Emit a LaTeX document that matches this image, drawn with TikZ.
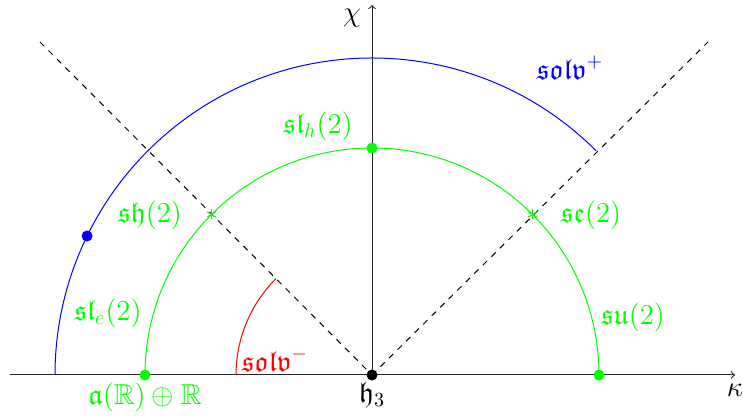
\documentclass[tikz,border=0pt]{standalone}
\usepackage{amssymb}
\begin{document}
\begin{tikzpicture}[x=0.5pt,y=0.5pt,line width=0.5pt,
  lab/.style={inner sep=0pt,anchor=center,font=\Large},
  dot/.style={circle,fill,inner sep=0pt,minimum size=5.5pt},
  ast/.style={green,line width=0.5pt}]
\useasboundingbox (0,0) rectangle (743,416);
\coordinate (O) at (372,41);
\coordinate (xl) at (10,41);
\coordinate (xr) at (735,41);
\coordinate (yt) at (372,411);
\coordinate (dl) at (40,374);
\coordinate (dr) at (708,374);
% axes
\draw[->,black!85] (xl) -- (xr);
\draw[->,black!85] (O) -- (yt);
% dashed
\draw[dashed] (dl) -- (O);
\draw[dashed] (O) -- (dr);
% arcs
\draw[blue] ([shift={(45:158.5pt)}]O) arc[start angle=45,end angle=180,radius=158.5pt];
\draw[green] ([shift={(0:113.5pt)}]O) arc[start angle=0,end angle=180,radius=113.5pt];
\draw[red] ([shift={(135:68pt)}]O) arc[start angle=135,end angle=180,radius=68pt];
% dots
\node[dot,blue] (bd) at ([shift={(154:158.5pt)}]O) {};
\node[dot,green] (g0) at ([shift={(0:113.5pt)}]O) {};
\node[dot,green] (g90) at ([shift={(90:113.5pt)}]O) {};
\node[dot,green] (g180) at ([shift={(180:113.5pt)}]O) {};
\node[dot,black] (od) at (O) {};
% asterisks
\foreach \a/\n in {45/ar,135/al}{
  \coordinate (\n) at ([shift={(\a:113.5pt)}]O);
  \foreach \t in {90,30,150}{
    \draw[ast] ([shift={(\t:2.5pt)}]\n) -- ([shift={(\t+180:2.5pt)}]\n);
  }
}
% labels
\node[lab] (chi) at (352,398) {$\chi$};
\node[lab] (kap) at (735,26) {$\kappa$};
\node[lab,blue] (solvp) at (570,348) {$\mathfrak{solv}^+$};
\node[lab,green] (slh) at (318,290) {$\mathfrak{sl}_h(2)$};
\node[lab,green] (sh) at (150,201) {$\mathfrak{sh}(2)$};
\node[lab,green] (se) at (591,201) {$\mathfrak{se}(2)$};
\node[lab,green] (sle) at (108,103) {$\mathfrak{sl}_e(2)$};
\node[lab,green] (su) at (633,99) {$\mathfrak{su}(2)$};
\node[lab,red] (solvm) at (275,56) {$\mathfrak{solv}^-$};
\node[lab,green] (aR) at (145,19) {$\mathfrak{a}(\mathbb{R})\oplus\mathbb{R}$};
\node[lab] (h3) at (372,21) {$\mathfrak{h}_3$};
\end{tikzpicture}
\end{document}
